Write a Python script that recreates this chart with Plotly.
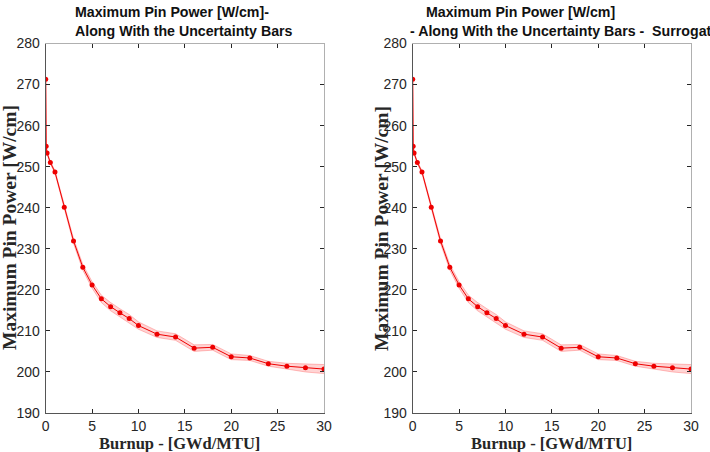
import plotly.graph_objects as go

burnup = [0, 0.05, 0.15, 0.5, 1, 2, 3, 4, 5, 6, 7, 8, 9, 10, 12, 14, 16, 18, 20, 22, 24, 26, 28, 30]
power = [271.3, 255.0, 253.3, 251.0, 248.7, 240.1, 231.9, 225.5, 221.2, 217.8, 215.9, 214.4,
         213.0, 211.3, 209.2, 208.5, 205.8, 206.0, 203.7, 203.4, 202.0, 201.4, 201.0, 200.7]
uncert = [0.2, 0.2, 0.25, 0.3, 0.35, 0.5, 0.6, 0.7, 0.8, 0.9, 1.0, 1.0,
          1.0, 0.9, 0.8, 0.8, 0.8, 0.7, 0.7, 0.6, 0.6, 0.7, 1.0, 1.1]
power_surr = list(power)
uncert_surr = list(uncert)

x_ticks = [0, 5, 10, 15, 20, 25, 30]
y_ticks = [190, 200, 210, 220, 230, 240, 250, 260, 270, 280]

titles_l = ["Maximum Pin Power [W/cm]-", "Along With the Uncertainty Bars"]
titles_r = ["Maximum Pin Power [W/cm]", "- Along With the Uncertainty Bars -  Surrogate"]
xlabel = "Burnup - [GWd/MTU]"
ylabel = "Maximum Pin Power [W/cm]"

W, H = 710, 452
fig = go.Figure()

def add_series(xs, ys, us, xa, ya):
    up = [y + u for y, u in zip(ys, us)]
    lo = [y - u for y, u in zip(ys, us)]
    fig.add_trace(go.Scatter(x=xs, y=up, mode="lines", line=dict(color="rgba(255,80,80,0.45)", width=0.8),
                             xaxis=xa, yaxis=ya, showlegend=False, hoverinfo="skip"))
    fig.add_trace(go.Scatter(x=xs, y=lo, mode="lines", line=dict(color="rgba(255,80,80,0.45)", width=0.8),
                             fill="tonexty", fillcolor="rgba(255,0,0,0.17)",
                             xaxis=xa, yaxis=ya, showlegend=False, hoverinfo="skip"))
    fig.add_trace(go.Scatter(x=xs, y=ys, mode="lines+markers", line=dict(color="#ee0000", width=1),
                             marker=dict(color="#ee0000", size=5),
                             xaxis=xa, yaxis=ya, showlegend=False))

add_series(burnup, power, uncert, "x", "y")
add_series(burnup, power_surr, uncert_surr, "x2", "y2")

tickfont = dict(family="Liberation Sans, Arial", size=14, color="#262626")
dark = "#555555"
light = "#b0b0b0"

xdom1 = [45.7 / W, 324 / W]
xdom2 = [412.7 / W, 691 / W]
ydom = [1 - 413 / H, 1 - 43.5 / H]

common_x = dict(range=[0, 30], tickvals=x_ticks, ticks="inside", ticklen=4, tickcolor="#262626",
                showline=True, linecolor=dark, linewidth=1, showgrid=False, zeroline=False,
                tickfont=tickfont, automargin=False, ticklabelstandoff=0)
common_y = dict(range=[190, 280], tickvals=y_ticks, ticks="inside", ticklen=4, tickcolor="#262626",
                showline=True, linecolor=dark, linewidth=1, showgrid=False, zeroline=False,
                tickfont=tickfont, ticklabelstandoff=2, automargin=False)

fig.update_layout(
    width=W, height=H, margin=dict(l=0, r=0, t=0, b=0, autoexpand=False),
    paper_bgcolor="white", plot_bgcolor="white",
    xaxis=dict(domain=xdom1, anchor="y", **common_x),
    yaxis=dict(domain=ydom, anchor="x", **common_y),
    xaxis2=dict(domain=xdom2, anchor="y2", **common_x),
    yaxis2=dict(domain=ydom, anchor="x2", **common_y),
)

# top/right box edges with inside ticks (lighter lines)
for i, (xa, ya) in enumerate([("x", "y"), ("x2", "y2")]):
    nx = 3 + i
    ny = 3 + i
    fig.add_trace(go.Scatter(x=[None], y=[None], xaxis=f"x{nx}", yaxis=f"y{ny}", showlegend=False,
                             hoverinfo="skip"))
    fig.update_layout(**{
        f"xaxis{nx}": dict(overlaying=xa, anchor=ya, side="top",
                           range=[0, 30], tickvals=x_ticks, ticks="inside", ticklen=4, tickcolor="#262626",
                           showline=True, linecolor=light, showgrid=False, zeroline=False,
                           showticklabels=False, automargin=False),
        f"yaxis{ny}": dict(overlaying=ya, anchor=xa, side="right",
                           range=[190, 280], tickvals=y_ticks, ticks="inside", ticklen=4, tickcolor="#262626",
                           showline=True, linecolor=light, showgrid=False, zeroline=False,
                           showticklabels=False, automargin=False),
    })

title_font = dict(family="Liberation Sans, Arial", size=14.2, color="#111111")
ann = []
for text, x, y in [(titles_l[0], 73, 12.5), (titles_l[1], 73, 30.5),
                   (titles_r[0], 424, 12.5), (titles_r[1], 408, 30.5)]:
    ann.append(dict(text="<b>" + text + "</b>", x=x / W, y=1 - y / H, xref="paper", yref="paper",
                    xanchor="left", yanchor="middle", showarrow=False, font=title_font))

xlab_font = dict(family="Liberation Serif, Times New Roman", size=16.5, color="#262626")
ylab_font = dict(family="Liberation Serif, Times New Roman", size=19.5, color="#262626")
for x in (179, 551.5):
    ann.append(dict(text="<b>" + xlabel + "</b>", x=x / W, y=1 - 443 / H, xref="paper", yref="paper",
                    xanchor="center", yanchor="middle", showarrow=False, font=xlab_font))
for x in (9, 381):
    ann.append(dict(text="<b>" + ylabel + "</b>", x=x / W, y=1 - 228 / H, xref="paper", yref="paper",
                    xanchor="center", yanchor="middle", showarrow=False, font=ylab_font, textangle=-90))
fig.update_layout(annotations=ann)

fig.write_html("out.html")
